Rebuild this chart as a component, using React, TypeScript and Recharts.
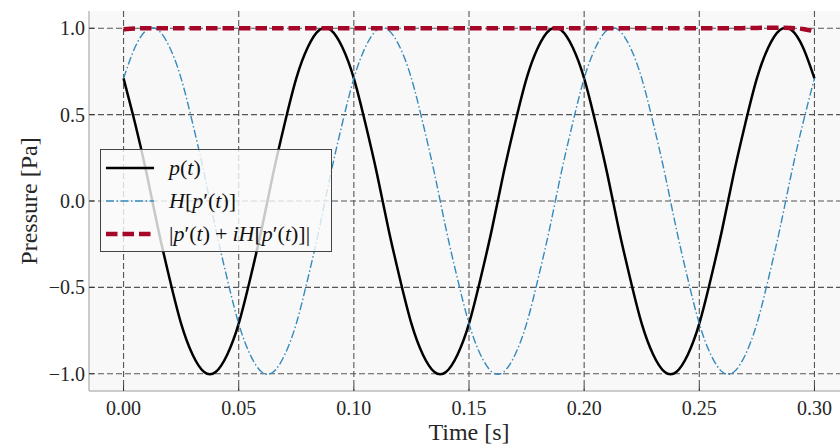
import { CartesianGrid, Label, Legend, Line, LineChart, XAxis, YAxis } from "recharts";

// time samples [s], 5 ms step
const time = [
  0.0, 0.005, 0.01, 0.015, 0.02, 0.025, 0.03, 0.035, 0.04, 0.045,
  0.05, 0.055, 0.06, 0.065, 0.07, 0.075, 0.08, 0.085, 0.09, 0.095,
  0.1, 0.105, 0.11, 0.115, 0.12, 0.125, 0.13, 0.135, 0.14, 0.145,
  0.15, 0.155, 0.16, 0.165, 0.17, 0.175, 0.18, 0.185, 0.19, 0.195,
  0.2, 0.205, 0.21, 0.215, 0.22, 0.225, 0.23, 0.235, 0.24, 0.245,
  0.25, 0.255, 0.26, 0.265, 0.27, 0.275, 0.28, 0.285, 0.29, 0.295,
  0.3,
];

// p(t)
const pressure = [
  0.71, 0.45, 0.16, -0.16, -0.45, -0.71, -0.89, -0.99, -0.99, -0.89,
  -0.71, -0.45, -0.16, 0.16, 0.45, 0.71, 0.89, 0.99, 0.99, 0.89,
  0.71, 0.45, 0.16, -0.16, -0.45, -0.71, -0.89, -0.99, -0.99, -0.89,
  -0.71, -0.45, -0.16, 0.16, 0.45, 0.71, 0.89, 0.99, 0.99, 0.89,
  0.71, 0.45, 0.16, -0.16, -0.45, -0.71, -0.89, -0.99, -0.99, -0.89,
  -0.71, -0.45, -0.16, 0.16, 0.45, 0.71, 0.89, 0.99, 0.99, 0.89,
  0.71,
];

// H[p'(t)]
const hilbert = [
  0.71, 0.89, 0.99, 0.99, 0.89, 0.71, 0.45, 0.16, -0.16, -0.45,
  -0.71, -0.89, -0.99, -0.99, -0.89, -0.71, -0.45, -0.16, 0.16, 0.45,
  0.71, 0.89, 0.99, 0.99, 0.89, 0.71, 0.45, 0.16, -0.16, -0.45,
  -0.71, -0.89, -0.99, -0.99, -0.89, -0.71, -0.45, -0.16, 0.16, 0.45,
  0.71, 0.89, 0.99, 0.99, 0.89, 0.71, 0.45, 0.16, -0.16, -0.45,
  -0.71, -0.89, -0.99, -0.99, -0.89, -0.71, -0.45, -0.16, 0.16, 0.45,
  0.71,
];

// |p'(t) + iH[p'(t)]|
const envelope = [
  0.994, 0.999, 1.0, 1.0, 1.0, 1.0, 1.0, 1.0, 1.0, 1.0,
  1.0, 1.0, 1.0, 1.0, 1.0, 1.0, 1.0, 1.0, 1.0, 1.0,
  1.0, 1.0, 1.0, 1.0, 1.0, 1.0, 1.0, 1.0, 1.0, 1.0,
  1.0, 1.0, 1.0, 1.0, 1.0, 1.0, 1.0, 1.0, 1.0, 1.0,
  1.0, 1.0, 1.0, 1.0, 1.0, 1.0, 1.0, 1.0, 1.0, 1.0,
  1.0, 1.0, 1.0, 1.0, 1.001, 1.002, 1.003, 1.003, 1.001, 0.996,
  0.982,
];

const xTicks = [0, 0.05, 0.1, 0.15, 0.2, 0.25, 0.3];
const yTicks = [-1, -0.5, 0, 0.5, 1];

const data = time.map((t, i) => ({
  t,
  p: pressure[i],
  h: hilbert[i],
  env: envelope[i],
}));

const FONT = "'Liberation Serif', 'DejaVu Serif', serif";
const BLACK = "#000000";
const BLUE = "#348ABD";
const RED = "#A60628";

const fmt = (v: number, d: number) => {
  const s = Math.abs(v).toFixed(d);
  return v < 0 ? "\u2212" + s : s;
};

const I = ({ children }: { children: string }) => (
  <span style={{ fontStyle: "italic" }}>{children}</span>
);

const Plus = () => <span style={{ margin: "0 5px" }}>+</span>;

const legendItems = [
  {
    stroke: BLACK,
    width: 2.5,
    dash: undefined as string | undefined,
    label: (
      <>
        <I>p</I>(<I>t</I>)
      </>
    ),
  },
  {
    stroke: BLUE,
    width: 1.4,
    dash: "8 2.5 1.5 2.5",
    label: (
      <>
        <I>H</I>[<I>p</I>′(<I>t</I>)]
      </>
    ),
  },
  {
    stroke: RED,
    width: 4.5,
    dash: "11.5 5",
    label: (
      <>
        |<I>p</I>′(<I>t</I>)<Plus /><I>iH</I>[<I>p</I>′(<I>t</I>)]|
      </>
    ),
  },
];

function LegendBox() {
  return (
    <div
      style={{
        boxSizing: "border-box",
        width: 232,
        height: 103,
        paddingTop: 1,
        border: "1px solid #444",
        background: "rgba(250,250,250,0.8)",
        fontFamily: FONT,
        fontSize: 22,
        color: "#111",
      }}
    >
      {legendItems.map((it, i) => (
        <div key={i} style={{ height: 33, display: "flex", alignItems: "center" }}>
          <svg width={48} height={10} style={{ marginLeft: 5, marginRight: 15 }}>
            <line
              x1={0}
              y1={5}
              x2={48}
              y2={5}
              stroke={it.stroke}
              strokeWidth={it.width}
              strokeDasharray={it.dash}
            />
          </svg>
          <span style={{ whiteSpace: "nowrap" }}>{it.label}</span>
        </div>
      ))}
    </div>
  );
}

export default function App() {
  return (
    <div
      style={{
        position: "absolute",
        left: 0,
        top: 0,
        width: 840,
        height: 447,
        overflow: "hidden",
        background: "#fff",
      }}
    >
      <LineChart
        width={860}
        height={447}
        data={data}
        margin={{ top: 11, right: 11, bottom: 0, left: 0 }}
        style={{ fontFamily: FONT }}
      >
        <CartesianGrid
          fill="#F8F8F8"
          stroke="#555"
          strokeWidth={1.1}
          strokeDasharray="6 3"
          verticalValues={xTicks}
          horizontalValues={yTicks}
        />
        <XAxis
          xAxisId="top"
          orientation="top"
          dataKey="t"
          type="number"
          domain={[-0.015, 0.315]}
          allowDataOverflow
          height={0}
          tick={false}
          tickLine={false}
          axisLine={{ stroke: "#BCBCBC", strokeWidth: 1.5 }}
        />
        <XAxis
          dataKey="t"
          type="number"
          domain={[-0.015, 0.315]}
          allowDataOverflow
          ticks={xTicks}
          tickFormatter={(v: number) => fmt(v, 2)}
          height={56}
          tickSize={-5}
          tickMargin={15}
          tickLine={{ stroke: "#333", strokeWidth: 1 }}
          axisLine={{ stroke: "#BCBCBC", strokeWidth: 1.5 }}
          tick={{ fill: "#262626", fontSize: 20, fontFamily: FONT }}
        >
          <Label
            content={(props: any) => {
              const vb = props.viewBox || { x: 89, y: 391, width: 760, height: 56 };
              return (
                <text
                  x={vb.x + vb.width / 2}
                  y={vb.y + 49}
                  textAnchor="middle"
                  fontSize={24}
                  fill="#262626"
                  fontFamily={FONT}
                >
                  Time [s]
                </text>
              );
            }}
          />
        </XAxis>
        <YAxis
          type="number"
          domain={[-1.1, 1.1]}
          allowDataOverflow
          ticks={yTicks}
          tickFormatter={(v: number) => fmt(v, 1)}
          width={89}
          tickSize={-5}
          tickMargin={9}
          tickLine={{ stroke: "#333", strokeWidth: 1 }}
          axisLine={{ stroke: "#BCBCBC", strokeWidth: 1.5 }}
          tick={{ fill: "#262626", fontSize: 20, fontFamily: FONT }}
        >
          <Label
            content={(props: any) => {
              const vb = props.viewBox || { x: 0, y: 11, width: 89, height: 380 };
              const cx = vb.x + 37;
              const cy = vb.y + vb.height / 2;
              return (
                <text
                  x={cx}
                  y={cy}
                  transform={`rotate(-90, ${cx}, ${cy})`}
                  textAnchor="middle"
                  fontSize={24}
                  fill="#262626"
                  fontFamily={FONT}
                >
                  Pressure [Pa]
                </text>
              );
            }}
          />
        </YAxis>
        <Legend
          layout="horizontal"
          align="center"
          verticalAlign="middle"
          content={() => <LegendBox />}
          wrapperStyle={{ left: 100, top: 149, width: 232, height: 103 }}
        />
        <Line
          dataKey="p"
          type="natural"
          stroke={BLACK}
          strokeWidth={2.5}
          dot={false}
          isAnimationActive={false}
        />
        <Line
          dataKey="h"
          type="natural"
          stroke={BLUE}
          strokeWidth={1.4}
          strokeDasharray="8 2.5 1.5 2.5"
          dot={false}
          isAnimationActive={false}
        />
        <Line
          dataKey="env"
          type="monotone"
          stroke={RED}
          strokeWidth={4.5}
          strokeDasharray="11.5 5"
          dot={false}
          isAnimationActive={false}
        />
      </LineChart>
    </div>
  );
}
